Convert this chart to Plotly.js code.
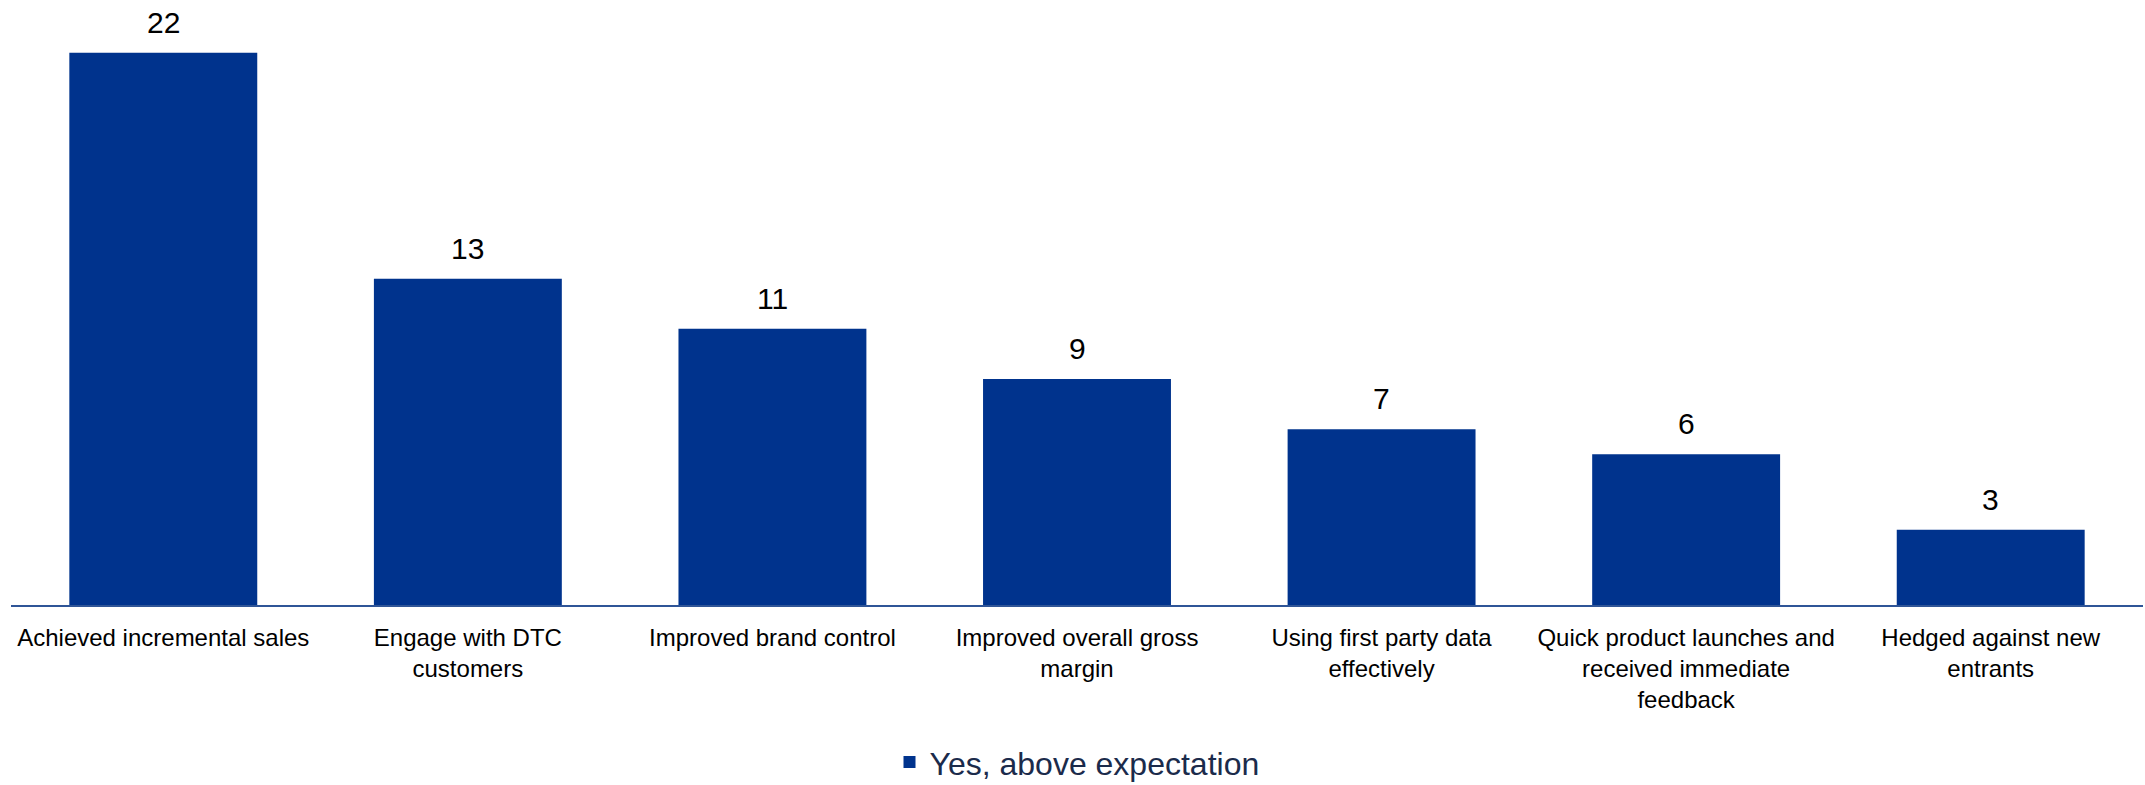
<!DOCTYPE html>
<html>
<head>
<meta charset="utf-8">
<script src="https://cdn.plot.ly/plotly-3.0.1.min.js"></script>
<style>html,body{margin:0;padding:0;background:#fff;}#chart{width:2145px;height:785px;}</style>
</head>
<body>
<div id="chart"></div>
<script>
const categories = [
  "Achieved incremental sales",
  "Engage with DTC<br>customers",
  "Improved brand control",
  "Improved overall gross<br>margin",
  "Using first party data<br>effectively",
  "Quick product launches and<br>received immediate<br>feedback",
  "Hedged against new<br>entrants"
];
const values = [22, 13, 11, 9, 7, 6, 3];
const seriesName = "Yes, above expectation";

const barColor = "#00338D";
const fontFamily = "Liberation Sans, Arial, sans-serif";

const trace = {
  type: "bar",
  x: categories,
  y: values,
  name: seriesName,
  marker: {color: barColor},
  hoverinfo: "x+y"
};

const annotations = categories.map((c, i) => ({
  x: c,
  y: values[i],
  xref: "x",
  yref: "y",
  text: String(values[i]),
  showarrow: false,
  yanchor: "bottom",
  yshift: 12,
  font: {family: fontFamily, size: 30, color: "#000000"}
}));

const layout = {
  width: 2145,
  height: 785,
  margin: {l: 11, r: 2, t: 10, b: 180},
  paper_bgcolor: "#ffffff",
  plot_bgcolor: "#ffffff",
  bargap: 0.383,
  showlegend: true,
  legend: {
    orientation: "h",
    x: 0.5,
    xanchor: "center",
    yref: "container",
    y: 0.064,
    yanchor: "top",
    font: {family: fontFamily, size: 32, color: "#1B2B4B"}
  },
  xaxis: {
    showline: true,
    linecolor: "#2F5597",
    linewidth: 2,
    showgrid: false,
    zeroline: false,
    ticks: "",
    ticklabelstandoff: 10,
    tickfont: {family: fontFamily, size: 24, color: "#000000"},
    automargin: false
  },
  yaxis: {
    range: [0, 23.7],
    visible: false,
    showgrid: false,
    zeroline: false,
    fixedrange: true
  },
  annotations: annotations
};

Plotly.newPlot("chart", [trace], layout, {displayModeBar: false, staticPlot: true});
</script>
</body>
</html>
